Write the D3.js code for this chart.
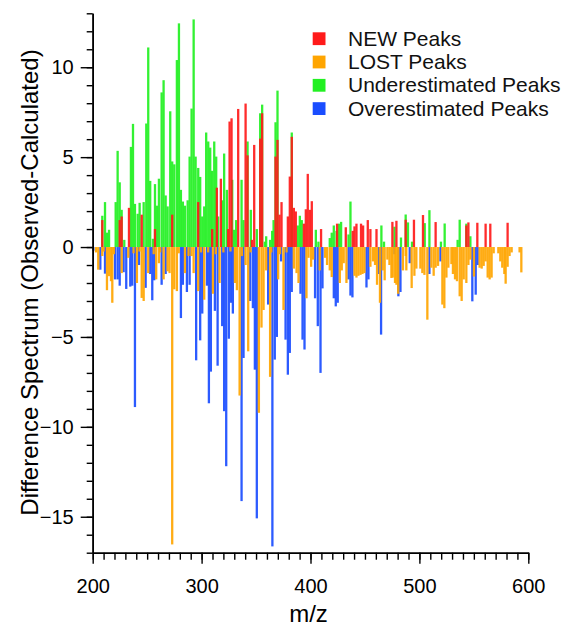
<!DOCTYPE html>
<html><head><meta charset="utf-8">
<script src="https://cdn.jsdelivr.net/npm/d3@7"></script>
<style>body{margin:0;background:#fff}</style>
</head><body><svg id="c" width="561" height="628"></svg>
<script>
const xTicks=[200,300,400,500,600];
const yTicks=[-15,-10,-5,0,5,10];
const seriesNames=["NEW Peaks","LOST Peaks","Underestimated Peaks","Overestimated Peaks"];
const seriesColors=["#ff1a1a","#ffa500","#22f022","#1a4dff"];

const underPeaks=[[208.8,1.74],[211.3,2.5],[213.1,0.8],[215,0.96],[221.1,2.5],[222.9,5.35],[224.8,3.6],[226.6,2.07],[229,0.4],[235.1,5.57],[237,6.85],[238.8,2.4],[241.3,1.85],[243.1,2.46],[246.8,2.5],[249.2,6.87],[251,11.1],[252.8,3.68],[255.3,0.46],[257.2,3.5],[259,2.3],[260.8,3.8],[263.3,8.6],[265.1,9.28],[267,2.87],[268.8,2.26],[271.2,7.55],[273,4.76],[274.9,4.6],[277.3,10.4],[279.2,12.44],[281,3.18],[282.8,2.53],[284.7,2.3],[287.2,2.6],[289,5.03],[290.8,7.7],[292.7,12.66],[294.5,5.03],[296.9,4.4],[298.7,3.9],[300.6,1.7],[302.4,2.26],[304.2,6.37],[306.1,5.87],[307.9,5.53],[309.7,4.24],[311.6,5.87],[313.4,5.03],[315.2,1.7],[318.9,2.6],[320.7,5.2],[323.2,3.18],[328.1,3.74],[329.9,0.96],[331.7,1.5],[336.7,3.74],[338.5,1.5],[342.2,5.87],[345.2,2.07],[350.7,1.0],[353.8,7.44],[355.6,7.92],[358.1,0.3],[359.3,0.6],[362.9,0.4],[364.8,0.9],[366.1,1.5],[367.9,6.94],[369.7,8.7],[382.8,6.37],[388.3,1.2],[390.2,1.74],[392,1.5],[404.9,0.96],[407.3,0.3],[417.7,0.5],[419.5,0.8],[421.4,1.2],[423.9,0.9],[426.2,1.3],[428.1,1.4],[434.9,0.7],[436.7,2.53],[465.1,1.2],[467.5,0.3],[477.1,1.13],[483.1,0.53],[487.4,1.81],[489.5,1.37],[493.2,0.3],[504.9,1.33],[509.2,2.05],[519.8,0.3],[523.2,1.31],[535.1,0.4],[537,1.52],[543.1,1.3],[546.8,0.6]];

const overPeaks=[[200.6,-0.2],[207,-1.26],[211.3,-1.48],[220.5,-1.8],[222.9,-1.8],[224.8,-2.15],[228.4,-1.4],[230.8,-2.33],[234.5,-2.2],[236.3,-2.15],[238.8,-8.9],[242.5,-1.0],[248.6,-2.27],[252.8,-1.5],[254.7,-2.96],[256.5,-1.85],[263.3,-2.1],[267,-1.5],[281,-3.95],[282.8,-2.1],[286.5,-2.5],[289,-2.1],[295,-6.3],[298.7,-5.19],[300.6,-3.7],[304.9,-2.15],[306.7,-8.69],[308.5,-6.93],[312.2,-3.55],[314.7,-6.6],[318.9,-4.4],[320.7,-9.13],[322.6,-12.19],[325,-5.1],[326.9,-3.1],[328.7,-3.7],[336.7,-14.13],[338.5,-6.17],[344.6,-3.0],[347.1,-3.4],[348.9,-6.82],[350.7,-15.09],[361.1,-3.2],[365,-16.65],[367.2,-6.26],[369.1,-5.0],[373,-0.8],[377.1,-5.15],[379.2,-7.1],[381,-5.89],[382.8,-2.5],[390.8,-2.6],[392.7,-5.15],[394.5,-5.7],[404.2,-2.85],[406.7,-4.4],[409.2,-7.0],[411,-2.3],[421.4,-2.85],[423.2,-3.3],[425,-3.1],[434.9,-1.8],[436.7,-2.7],[438.5,-2.8],[451.4,-2.25],[453.2,-1.8],[462.9,-1.5],[464.8,-4.87],[477.1,-0.4],[480.7,-2.74],[482.6,-2.5],[491.1,-0.9],[509.2,-1.5],[519.3,-0.8],[548.6,-3.02],[551.7,-2.65],[553.5,-1.0]];

const newPeaks=[[208.8,1.5],[224.8,1.5],[226.6,1.7],[233.3,2.18],[245,1.8],[257.2,1.0],[273,1.8],[296.9,2.5],[309.7,1.0],[314,3.3],[317.7,3.8],[324.4,1.0],[325.7,6.98],[327.5,7.16],[333.6,7.68],[340.4,7.98],[342.2,5.1],[346.2,0.4],[348.3,5.68],[353.8,6.03],[355.6,7.44],[367.9,5.03],[369.7,5.96],[371.6,1.8],[373.4,2.5],[379.2,1.7],[381,3.92],[382.8,6.13],[384.7,2.18],[386.5,1.98],[393.9,1.3],[395.7,2.1],[397.5,4.07],[399.4,2.07],[401.2,2.55],[409.7,1.0],[424.4,1.3],[432.4,1.1],[438.8,0.9],[440.4,1.15],[442.2,1.3],[446.4,1.3],[448.3,1.2],[452.6,1.5],[455,1.0],[460.6,1.0],[475.2,1.4],[478.9,1.46],[487.4,1.52],[495,1.52],[503.3,1.78],[514.9,1.39],[543.1,1.2],[545,1.37],[553.2,1.35],[560.8,1.3],[565.1,1.3],[581,1.35]];

const lostPeaks=[[203,-0.3],[205.1,-1.26],[208.8,-0.5],[210,-0.25],[213.1,-2.4],[215,-1.62],[216.8,-1.9],[218,-3.1],[219.5,-0.4],[226.6,-1.45],[232.7,-0.6],[237.5,-0.35],[240.6,-2.0],[243,-0.25],[245,-2.83],[246.8,-3.0],[251,-1.45],[256,-0.4],[258.3,-1.8],[260.8,-0.9],[262,-0.3],[265.1,-1.8],[268.8,-1.35],[270.6,-1.45],[273,-16.54],[274.9,-2.35],[277.3,-2.45],[279,-0.35],[284.7,-1.45],[288,-0.5],[290.8,-0.5],[292.7,-1.45],[296.9,-2.45],[299.5,-0.3],[302.4,-2.93],[306,-0.3],[310.4,-2.6],[313,-0.4],[316.5,-2.0],[320,-0.3],[326.5,-0.25],[330.6,-2.0],[332.4,-2.4],[334.9,-8.26],[337,-0.5],[340.4,-1.0],[342.8,-5.8],[345,-0.3],[352.6,-9.22],[355,-4.48],[356.9,-3.5],[359.3,-1.3],[362.9,-7.22],[364,-0.3],[370.3,-1.8],[372,-0.4],[375.2,-3.5],[378,-0.3],[384.7,-1.2],[387.2,-1.45],[389,-2.0],[396.3,-2.85],[398.2,-0.6],[400.6,-1.1],[402.4,-0.7],[408.5,-1.3],[413.4,-0.6],[415.2,-1.0],[417.7,-1.3],[419.5,-1.67],[426.9,-2.0],[428.7,-1.3],[430.5,-0.9],[433,-2.0],[440.4,-1.6],[442.2,-1.7],[444,-1.6],[445.9,-1.55],[447.7,-1.5],[449.5,-1.45],[455,-1.1],[457.4,-0.8],[459.3,-1.0],[461.1,-2.1],[463.8,-3.1],[466.3,-1.3],[468.1,-1.85],[470.6,-0.7],[472.5,-1.0],[474.3,-1.72],[475.5,-1.7],[477.6,-2.0],[478.9,-2.1],[480.5,-2.6],[484.9,-1.3],[487.4,-0.5],[488,-1.3],[492.9,-2.28],[495.4,-1.6],[497.2,-1.2],[500.9,-1.2],[502.7,-1.45],[504.6,-1.55],[507.3,-4.04],[511,-1.15],[513.1,-1.6],[514.9,-1.15],[517.1,-1.05],[521.1,-3.2],[522.9,-3.4],[524.8,-1.7],[526.6,-1.15],[529.4,-0.95],[530.8,-1.5],[532.7,-1.8],[534.5,-1.9],[537,-2.74],[538.8,-3.0],[540.7,-1.8],[543.1,-2.0],[545,-1.0],[546.8,-0.7],[550.1,-1.64],[555.3,-1.15],[557.2,-1.2],[559,-1.05],[560.8,-0.8],[562.7,-1.7],[564.5,-1.8],[566.3,-1.7],[568.2,-0.35],[572.5,-0.35],[574.3,-0.8],[576.1,-1.15],[578,-1.5],[579.2,-2.04],[581,-1.1],[582.8,-0.5],[584.7,-0.3],[592,-0.3],[593.6,-1.41]];

const font='"Liberation Sans", Arial, Helvetica, sans-serif';
const svg=d3.select("#c");
const x=d3.scaleLinear().domain([200,600]).range([92.7,528.3]);
const y=d3.scaleLinear().domain([-17,13]).range([552.7,13.3]);
const bw=2.3;

function drawBars(data,color){
  svg.append("g").selectAll("rect").data(data).enter().append("rect")
    .attr("x",d=>x(d[0])-bw/2).attr("width",bw)
    .attr("y",d=>y(Math.max(0,d[1]))).attr("height",d=>Math.abs(y(d[1])-y(0)))
    .attr("fill",color).attr("opacity",0.92);
}
drawBars(underPeaks,seriesColors[2]);
drawBars(overPeaks,seriesColors[3]);
drawBars(newPeaks,seriesColors[0]);
drawBars(lostPeaks,seriesColors[1]);

// x axis
svg.append("g").attr("transform","translate(0,552.7)")
  .call(d3.axisBottom(x).tickValues(d3.range(200,601,10)).tickSize(7).tickSizeOuter(0).tickFormat(""));
svg.append("g").attr("transform","translate(0,552.7)")
  .call(d3.axisBottom(x).tickValues(xTicks).tickSize(11).tickSizeOuter(0).tickPadding(15).tickFormat(d3.format("d")));
// y axis
svg.append("g").attr("transform","translate(92.7,0)")
  .call(d3.axisLeft(y).tickValues(d3.range(-17,14,1)).tickSize(6).tickSizeOuter(0).tickFormat(""));
svg.append("g").attr("transform","translate(92.7,0)")
  .call(d3.axisLeft(y).tickValues(yTicks).tickSize(12).tickSizeOuter(0).tickPadding(7).tickFormat(d3.format("d")));

svg.selectAll(".domain").attr("stroke","#000").attr("stroke-width",1.6);
svg.selectAll(".tick line").attr("stroke","#000").attr("stroke-width",1.4);
svg.selectAll(".tick text").attr("font-family",font).attr("font-size",20).attr("fill","#000");

svg.append("text").attr("x",308.5).attr("y",621.5).attr("text-anchor","middle")
  .attr("font-family",font).attr("font-size",24).text("m/z");
svg.append("text").attr("transform","translate(38,282.5) rotate(-90)").attr("text-anchor","middle")
  .attr("font-family",font).attr("font-size",24).text("Difference Spectrum (Observed-Calculated)");

// legend
const leg=svg.append("g");
seriesNames.forEach((n,i)=>{
  const cy=38.7+i*23.3;
  leg.append("rect").attr("x",312.7).attr("y",cy-6.4).attr("width",12.8).attr("height",12.8).attr("fill",seriesColors[i]);
  leg.append("text").attr("x",348).attr("y",cy+7).attr("font-family",font).attr("font-size",21).attr("fill","#111").text(n);
});
</script></body></html>
